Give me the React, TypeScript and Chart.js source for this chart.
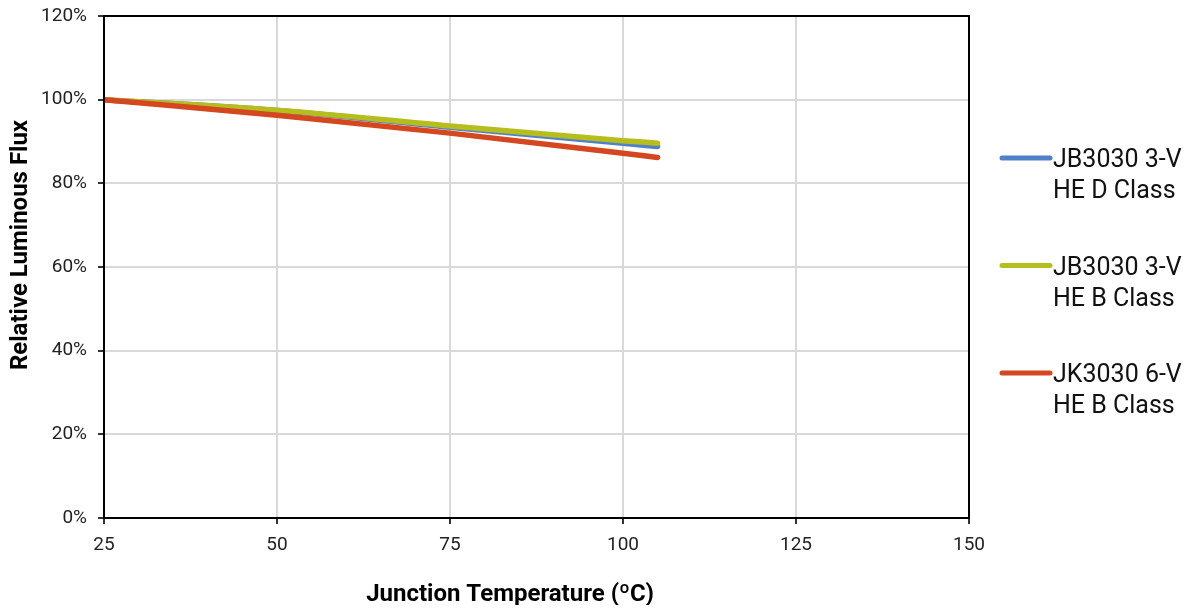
import React, { useEffect, useRef } from "react";
import { Chart, registerables } from "chart.js";

Chart.register(...registerables);

const temperatures = [25, 50, 75, 100, 105];
const seriesLabels = [
  ["JB3030 3-V", "HE D Class"],
  ["JB3030 3-V", "HE B Class"],
  ["JK3030 6-V", "HE B Class"],
];
const blueValues = [100, 97.4, 93.4, 89.6, 88.8];
const greenValues = [100, 97.5, 93.7, 90.2, 89.6];
const redValues = [100, 96.3, 92.0, 87.2, 86.2];
const seriesColors = ["#5081c8", "#b6be1e", "#d4471f"];
const yTicks = [0, 20, 40, 60, 80, 100, 120];
const xTicks = [25, 50, 75, 100, 125, 150];
const xTitle = "Junction Temperature (ºC)";
const yTitle = "Relative Luminous Flux";

const FONT = "Roboto, 'Noto Sans', sans-serif";

const decorPlugin = {
  id: "decor",
  afterDraw(chart: any) {
    const { ctx, chartArea } = chart;
    ctx.save();
    ctx.strokeStyle = "#000";
    ctx.lineWidth = 2;
    ctx.strokeRect(chartArea.left, chartArea.top, chartArea.right - chartArea.left, chartArea.bottom - chartArea.top);
    ctx.fillStyle = "#000";
    ctx.font = `bold 24px ${FONT}`;
    ctx.textAlign = "center";
    ctx.textBaseline = "middle";
    ctx.fillText(xTitle, 502, 587);
    ctx.save();
    ctx.translate(13, 237);
    ctx.rotate(-Math.PI / 2);
    ctx.fillText(yTitle, 0, 0);
    ctx.restore();
    ctx.font = `25px ${FONT}`;
    ctx.textAlign = "left";
    const legendX = 992;
    const firstY = 150;
    const gap = 107.5;
    chart.data.datasets.forEach((ds: any, i: number) => {
      const y = firstY + i * gap;
      ctx.strokeStyle = ds.borderColor;
      ctx.lineWidth = 5;
      ctx.lineCap = "round";
      ctx.beginPath();
      ctx.moveTo(legendX + 2, y);
      ctx.lineTo(legendX + 50, y);
      ctx.stroke();
      ctx.fillStyle = "#111";
      seriesLabels[i].forEach((t, j) => {
        ctx.fillText(t, legendX + 53, y + 3 + j * 31);
      });
    });
    ctx.restore();
  },
};

export default function App() {
  const ref = useRef<HTMLCanvasElement | null>(null);
  useEffect(() => {
    if (!ref.current) return;
    const mk = (vals: number[], i: number, order: number) => ({
      label: seriesLabels[i].join(" "),
      data: temperatures.map((t, k) => ({ x: t, y: vals[k] })),
      borderColor: seriesColors[i],
      backgroundColor: seriesColors[i],
      borderWidth: 5.5,
      borderCapStyle: "round" as const,
      pointRadius: 0,
      cubicInterpolationMode: "monotone" as const,
      order,
    });
    const chart = new Chart(ref.current, {
      type: "line",
      data: {
        datasets: [mk(blueValues, 0, 3), mk(greenValues, 1, 2), mk(redValues, 2, 1)],
      },
      options: {
        animation: false,
        responsive: false,
        devicePixelRatio: 1,
        layout: { padding: { top: 8, right: 216, left: 0, bottom: 0 } },
        plugins: { legend: { display: false }, tooltip: { enabled: false } },
        scales: {
          x: {
            type: "linear",
            min: 25,
            max: 150,
            afterBuildTicks: (s: any) => {
              s.ticks = xTicks.map((v) => ({ value: v }));
            },
            afterFit: (s: any) => {
              s.height = 87;
              s.paddingLeft = 0;
              s.paddingRight = 0;
            },
            ticks: { color: "#222", font: { family: FONT, size: 19 }, padding: 10, maxRotation: 0 },
            grid: { color: "#d9d9d9", lineWidth: 2, tickColor: "#333", tickLength: 6 },
            border: { color: "#000", width: 2 },
          },
          y: {
            min: 0,
            max: 120,
            afterBuildTicks: (s: any) => {
              s.ticks = yTicks.map((v) => ({ value: v }));
            },
            afterFit: (s: any) => {
              s.width = 96;
              s.paddingTop = 0;
              s.paddingBottom = 0;
            },
            ticks: {
              color: "#222",
              font: { family: FONT, size: 19 },
              padding: 11,
              callback: (v: any) => `${v}%`,
            },
            grid: { color: "#d9d9d9", lineWidth: 2, tickColor: "#333", tickLength: 6 },
            border: { color: "#000", width: 2 },
          },
        },
      },
      plugins: [decorPlugin],
    });
    return () => chart.destroy();
  }, []);
  return (
    <div style={{ width: 1177, height: 597 }}>
      <canvas ref={ref} width={1177} height={597} style={{ display: "block" }} />
    </div>
  );
}
